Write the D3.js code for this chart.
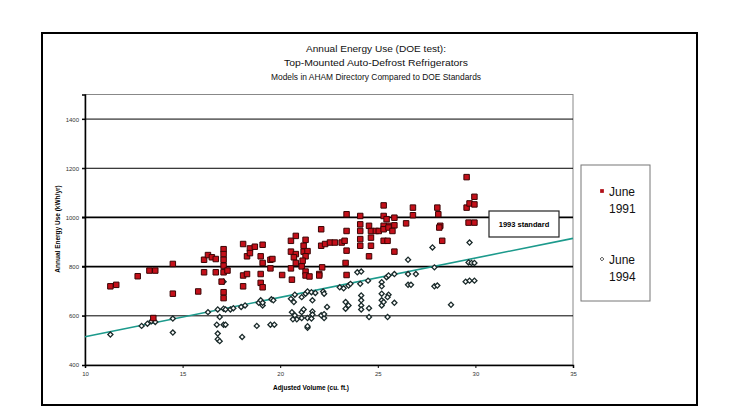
<html>
<script src="https://cdn.jsdelivr.net/npm/d3@7/dist/d3.min.js"></script>
<style>
body { margin: 0; background: #fff; }
text { font-family: "Liberation Sans", Arial, sans-serif; }
</style>
<body>
<div id="chart"></div>
<script>
// chart text
var titleLines = ["Annual Energy Use (DOE test):",
                  "Top-Mounted Auto-Defrost Refrigerators",
                  "Models in AHAM Directory Compared to DOE Standards"];
var xTicks = [10, 15, 20, 25, 30, 35];
var yTicks = [400, 600, 800, 1000, 1200, 1400];
var seriesNames = ["June 1991", "June 1994"];

// 1993 standard: kWh/yr = 16.0 * AV + 355
var standardSlope = 16.0, standardIntercept = 355;

// [adjusted volume, kWh/yr]
var june1991 = [
  [11.3,720],[11.6,726],[12.7,761],[13.3,784],[13.6,784],[14.5,811],[14.5,690],[13.5,591],[15.8,699],[16.1,777],
  [16.1,828],[16.3,847],[16.5,838],[16.7,831],[16.7,777],[17.1,871],[17.1,851],[17.1,828],[17.1,804],[17.1,777],
  [17.3,784],[17.0,739],[17.1,696],[17.1,672],
  [18.1,892],[18.45,874],[18.7,881],[19.1,889],[18.3,842],[18.45,855],[19.0,842],[19.1,815],[19.5,828],[19.6,831],
  [19.5,793],[18.1,764],[18.3,770],[18.1,720],[19.0,770],[19.0,734],[19.1,716],[20.1,766],[20.55,905],[20.8,925],
  [20.55,861],[20.8,851],[20.7,838],[20.55,793],[20.8,815],[20.6,747],[21.2,885],[21.3,909],[21.2,861],[21.4,863],
  [21.3,842],[21.1,801],[21.3,780],[21.3,764],[21.5,760],[21.15,824],[22.1,952],[22.1,885],[22.3,892],[22.55,898],
  [22.0,770],[22.15,797],[22.0,764],[22.8,898],[23.15,898],[23.3,905],[23.4,1013],[23.4,945],[23.4,865],[23.35,815],
  [23.4,766],
  [24.1,1006],[24.1,972],[24.1,945],[24.1,912],[24.1,885],[24.55,966],[24.65,945],[24.65,918],[24.65,885],[24.55,842],
  [24.9,945],[25.05,945],[25.3,1049],[25.3,1006],[25.45,993],[25.55,966],[25.3,966],[25.3,952],[25.55,959],[25.85,968],
  [25.85,999],[25.3,905],[25.5,905],[25.75,945],[25.85,861],[26.45,976],[26.8,1040],[26.8,1009],[28.05,1040],[28.1,1013],
  [28.2,966],[28.15,959],[28.3,905],[29.55,1164],[29.55,1040],[29.7,1057],[29.95,1084],[29.95,1053],[29.65,979],[29.95,979]
];

var june1994 = [
  [11.3,524],[12.9,559],[13.2,568],[13.4,578],[13.6,575],[14.5,589],[14.5,532],[16.3,615],[16.8,626],[17.1,629],
  [17.2,626],[16.9,595],[17.1,564],[16.75,564],[16.8,528],[16.8,505],[16.9,497],[17.1,739],
  [17.45,626],[17.6,631],[17.2,564],[18.0,636],[18.2,642],[18.05,514],[18.9,653],[19.0,663],[19.1,642],[19.1,653],
  [19.55,667],[19.65,663],[18.8,559],[19.5,564],[19.7,564],
  [20.55,669],[20.7,656],[20.75,686],[20.6,615],[20.75,602],[20.85,586],[20.65,586],[21.1,615],[21.2,626],[21.1,591],
  [21.4,591],[21.4,551],[21.4,558],[21.1,676],[21.3,690],[21.4,699],[21.6,696],[21.8,693],[21.65,663],[21.65,618],
  [21.65,605],[21.6,589],[22.2,699],[22.25,690],[22.25,591],[22.1,602],[22.4,636],[22.25,607],
  [23.05,716],[23.25,712],[23.5,723],[23.6,730],[23.35,656],[23.35,629],[23.5,642],[23.95,777],
  [24.15,780],[24.1,730],[24.5,743],[25.2,737],[25.2,720],[25.45,757],[25.55,764],[25.85,770],[24.15,683],[24.15,663],
  [24.15,642],[24.15,626],[24.55,631],[25.2,690],[25.2,663],[25.2,642],[25.3,656],[25.55,686],[25.5,676],[25.85,653],
  [24.55,595],[25.5,595],[26.55,828],[26.55,770],[26.95,770],[26.55,726],[26.7,726],[27.8,878],[27.9,797],[27.9,720],
  [28.05,723],[28.75,645],[29.7,898],[29.65,817],[29.8,815],[29.95,815],[29.5,739],[29.7,743],[29.95,743]
];

var W = 732, H = 414;
var plotLeft = 85, plotRight = 573, plotTop = 94.5, plotBottom = 365;

var svg = d3.select("#chart").append("svg")
    .attr("width", W).attr("height", H);

// outer frame
svg.append("rect")
    .attr("x", 42).attr("y", 33).attr("width", 655).attr("height", 372)
    .attr("fill", "#fff").attr("stroke", "#000").attr("stroke-width", 2);

var x = d3.scaleLinear().domain([10, 35]).range([plotLeft, plotRight]);
var y = d3.scaleLinear().domain([400, 1500]).range([plotBottom, plotTop]);

// title
svg.append("g").selectAll("text")
    .data(titleLines)
  .enter().append("text")
    .attr("x", 376)
    .attr("y", function(d, i) { return 52 + i * 14; })
    .attr("text-anchor", "middle")
    .attr("font-size", 9.5)
    .attr("textLength", function(d, i) { return [140, 184, 210][i]; })
    .attr("lengthAdjust", "spacingAndGlyphs")
    .attr("fill", "#111")
    .text(function(d) { return d; });

// plot border (gray)
svg.append("rect")
    .attr("x", plotLeft).attr("y", plotTop)
    .attr("width", plotRight - plotLeft).attr("height", plotBottom - plotTop)
    .attr("fill", "none").attr("stroke", "#888").attr("stroke-width", 1);

// gridlines
svg.append("g").selectAll("line")
    .data(yTicks.filter(function(d) { return d > 400; }))
  .enter().append("line")
    .attr("x1", plotLeft - 3).attr("x2", plotRight)
    .attr("y1", function(d) { return y(d); })
    .attr("y2", function(d) { return y(d); })
    .attr("stroke", "#000")
    .attr("stroke-width", function(d) { return (d == 800 || d == 1000) ? 1.8 : 1; });

// axes
var yAxis = d3.axisLeft(y).tickValues(yTicks).tickFormat(d3.format("d")).tickSize(3).tickPadding(3);
var gy = svg.append("g").attr("transform", "translate(" + plotLeft + ",0)").call(yAxis);
var xAxis = d3.axisBottom(x).tickValues(xTicks).tickFormat(d3.format("d")).tickSize(3).tickPadding(4);
var gx = svg.append("g").attr("transform", "translate(0," + plotBottom + ")").call(xAxis);
[gy, gx].forEach(function(g) {
  g.select(".domain").attr("stroke", "#000").attr("stroke-width", 1.5);
  g.selectAll(".tick line").attr("stroke", "#000");
  g.selectAll(".tick text")
    .attr("font-family", "Liberation Sans, Arial, sans-serif")
    .attr("font-size", 6).attr("fill", "#333");
});

// axis titles
svg.append("text")
    .attr("transform", "translate(60,229) rotate(-90)")
    .attr("text-anchor", "middle")
    .attr("font-size", 6.5).attr("font-weight", "bold")
    .text("Annual Energy Use (kWh/yr)");
svg.append("text")
    .attr("x", 311).attr("y", 390)
    .attr("text-anchor", "middle")
    .attr("font-size", 6.5).attr("font-weight", "bold")
    .text("Adjusted Volume (cu. ft.)");

// 1993 standard line
svg.append("line")
    .attr("x1", x(10)).attr("y1", y(standardSlope * 10 + standardIntercept))
    .attr("x2", x(35)).attr("y2", y(standardSlope * 35 + standardIntercept))
    .attr("stroke", "#1c9a8c").attr("stroke-width", 1.6);

// standard label box
svg.append("rect")
    .attr("x", 489).attr("y", 211).attr("width", 70).attr("height", 26)
    .attr("fill", "#fff").attr("stroke", "#222").attr("stroke-width", 1.2);
svg.append("text")
    .attr("x", 524).attr("y", 227)
    .attr("text-anchor", "middle")
    .attr("font-size", 7.5).attr("font-weight", "bold")
    .text("1993 standard");

var square = d3.symbol().type(d3.symbolSquare).size(30);
// diamond = square turned 45 degrees (rounder than d3's symbolDiamond)
var diamond = d3.symbol().type(d3.symbolSquare).size(13);

// 1994 diamonds
svg.append("g").selectAll("path")
    .data(june1994)
  .enter().append("path")
    .attr("d", diamond)
    .attr("transform", function(d) { return "translate(" + x(d[0]) + "," + y(d[1]) + ") rotate(45)"; })
    .attr("fill", "#fff")
    .attr("stroke", "#1a2a2a")
    .attr("stroke-width", 1.3);

// 1991 squares
svg.append("g").selectAll("path")
    .data(june1991)
  .enter().append("path")
    .attr("d", square)
    .attr("transform", function(d) { return "translate(" + x(d[0]) + "," + y(d[1]) + ")"; })
    .attr("fill", "#c4101a")
    .attr("stroke", "#3a0505")
    .attr("stroke-width", 1);

// legend
svg.append("rect")
    .attr("x", 581).attr("y", 165).attr("width", 69).attr("height", 136)
    .attr("fill", "#fff").attr("stroke", "#777").attr("stroke-width", 1);

var legend = svg.append("g").selectAll("g")
    .data(seriesNames)
  .enter().append("g")
    .attr("transform", function(d, i) { return "translate(602," + (191 + i * 68) + ")"; });
legend.append("path")
    .attr("d", function(d, i) {
      return d3.symbol().type(d3.symbolSquare).size(i == 0 ? 14 : 7)();
    })
    .attr("transform", function(d, i) { return i == 0 ? null : "rotate(45)"; })
    .attr("fill", function(d, i) { return i == 0 ? "#b01018" : "#fff"; })
    .attr("stroke", function(d, i) { return i == 0 ? "none" : "#333"; })
    .attr("stroke-width", 0.8);
legend.append("text")
    .attr("x", 7).attr("y", 4.5)
    .attr("font-size", 12).attr("fill", "#111")
    .text(function(d) { return d.split(" ")[0]; });
legend.append("text")
    .attr("x", 7).attr("y", 22)
    .attr("font-size", 12).attr("fill", "#111")
    .text(function(d) { return d.split(" ")[1]; });
</script>
</body>
</html>
